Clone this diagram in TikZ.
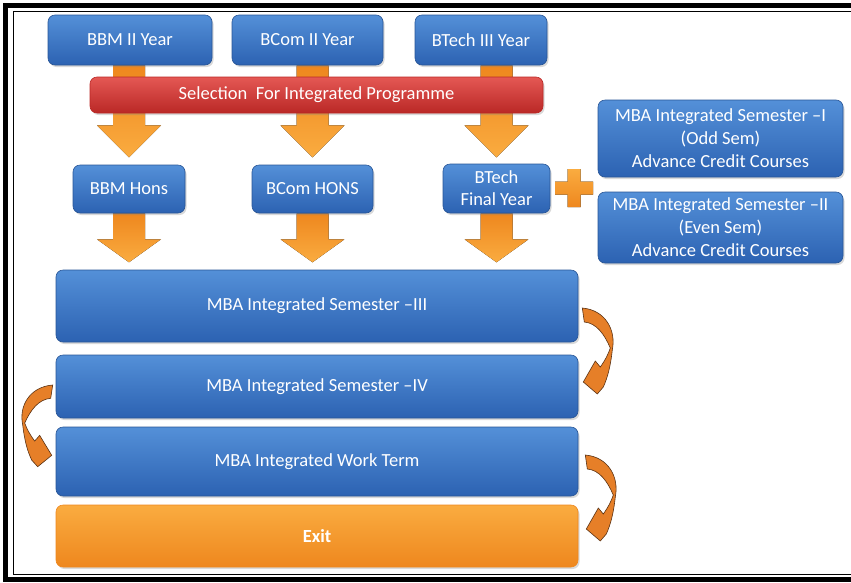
\documentclass[tikz,border=0pt]{standalone}
\usepackage{fontspec}
\setmainfont{Carlito}
\usetikzlibrary{positioning,shadows,backgrounds}

\definecolor{boxtop}{RGB}{84,144,216}
\definecolor{boxbot}{RGB}{44,98,178}
\definecolor{boxline}{RGB}{40,85,150}
\definecolor{redtop}{RGB}{228,88,84}
\definecolor{redbot}{RGB}{186,40,38}
\definecolor{ortop}{RGB}{250,172,64}
\definecolor{orbot}{RGB}{238,135,30}
\definecolor{turnfill}{RGB}{230,127,40}
\definecolor{turnline}{RGB}{90,50,20}

\tikzset{
  blockbox/.style = {rounded corners=7pt, top color=boxtop, bottom color=boxbot,
    draw=boxline, line width=0.6pt, text=white, align=center, inner sep=2pt,
    drop shadow={opacity=0.3, shadow xshift=1.5pt, shadow yshift=-2pt}},
  redbar/.style = {blockbox, top color=redtop, bottom color=redbot, draw=redbot},
  exitbox/.style = {blockbox, top color=ortop, bottom color=orbot, draw=orbot, font=\bfseries\fontsize{18.5}{23}\selectfont},
  pics/downarrow/.style 2 args = {code={
    \fill[top color=orbot, bottom color=ortop] (-16,0) -- (16,0) -- (16,#1) -- (32,#1)
      -- (0,#2) -- (-32,#1) -- (-16,#1) -- cycle;
  }},
  pics/turnarrow/.style = {code={
    \filldraw[fill=turnfill, draw=turnline, line width=0.6pt]
      (0,0) .. controls (23,2) and (34,22) .. (30,42)
      .. controls (28,60) and (25,70) .. (21,79) -- (15,86) -- (1,74) -- (13,53) -- (18,59)
      .. controls (23,52) and (26,46) .. (28,40)
      .. controls (22,26) and (14,15) .. (2,14) -- cycle;
  }},
  pics/plussign/.style = {code={
    \fill[top color=ortop, bottom color=orbot] (-6.5,-19) -- (6.5,-19) -- (6.5,-6.5) -- (19,-6.5)
      -- (19,6.5) -- (6.5,6.5) -- (6.5,19) -- (-6.5,19) -- (-6.5,6.5) -- (-19,6.5)
      -- (-19,-6.5) -- (-6.5,-6.5) -- cycle;
  }}
}

\begin{document}
\begin{tikzpicture}[x=1pt, y=-1pt, font=\fontsize{18.5}{23}\selectfont]
    \useasboundingbox (0,0) rectangle (851,582);
    % frame
    \draw[line width=5pt] (851,5.5) -- (5,5.5) -- (5,579.5) -- (851,579.5);
    \draw[line width=1.5pt] (851,11.5) -- (13.5,11.5) -- (13.5,574.5) -- (851,574.5);

    % first row
    \node[blockbox, minimum width=164, minimum height=50] at (130, 40) (bbm) {BBM II Year};
    \node[blockbox, minimum width=151, minimum height=50] at (307.5, 40) (bcom) {BCom II Year};
    \node[blockbox, minimum width=132, minimum height=50] at (481, 40) (btech) {BTech III Year};
    \node[redbar, minimum width=453, minimum height=36] at (316.5, 95) (sel) {Selection\ \ For Integrated Programme};

    % second row
    \node[blockbox, minimum width=112, minimum height=48] at (129, 189) (hons) {BBM Hons};
    \node[blockbox, minimum width=121, minimum height=48] at (312.5, 189) (bcomh) {BCom HONS};
    \node[blockbox, minimum width=107, minimum height=49, font=\fontsize{18.5}{22}\selectfont] at (496.5, 188.5) (btechf) {BTech\\Final Year};
    \pic at (574, 188) {plussign};

    \node[blockbox, minimum width=245, minimum height=77] at (720.5, 138.5) (semi)
        {MBA Integrated Semester --I\\(Odd Sem)\\Advance Credit Courses};
    \node[blockbox, minimum width=245, minimum height=71] at (720.5, 227.5) (semii)
        {MBA Integrated Semester --II\\(Even Sem)\\Advance Credit Courses};

    % semesters
    \node[blockbox, minimum width=522, minimum height=72] at (317, 306) (iii) {MBA Integrated Semester --III};
    \node[blockbox, minimum width=522, minimum height=63] at (317, 386.5) (iv) {MBA Integrated Semester --IV};
    \node[blockbox, minimum width=522, minimum height=69] at (317, 461.5) (wt) {MBA Integrated Work Term};
    \node[exitbox, minimum width=522, minimum height=62] at (317, 536) (exit) {Exit};

    \begin{scope}[on background layer]
        \pic at (hons.north |- bbm.south) {downarrow={60}{92}};
        \pic at (bcomh.north |- bcom.south) {downarrow={60}{92}};
        \pic at (btechf.north |- btech.south) {downarrow={60}{92}};
        \pic at (hons.south) {downarrow={26}{49}};
        \pic at (bcomh.south) {downarrow={26}{49}};
        \pic at (btechf.south) {downarrow={26}{49}};
    \end{scope}

    \pic at ([shift={(4,2)}]iii.east) {turnarrow};
    \pic[xscale=-1, yscale=0.95] at ([shift={(-3,-1.5)}]iv.west) {turnarrow};
    \pic at ([shift={(7,-6.5)}]wt.east) {turnarrow};
\end{tikzpicture}
\end{document}
